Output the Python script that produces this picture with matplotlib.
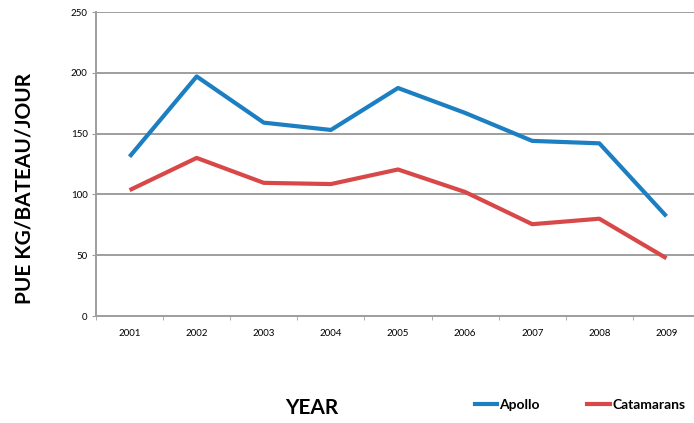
import matplotlib
matplotlib.use("Agg")
import matplotlib.pyplot as plt
from matplotlib.lines import Line2D

years = ["2001", "2002", "2003", "2004", "2005", "2006", "2007", "2008", "2009"]
apollo = [131, 197, 159, 153, 187.5, 167, 144, 142, 82]
catamarans = [103.5, 130, 109.5, 108.5, 120.5, 102, 75.5, 80, 47.5]
y_ticks = [0, 50, 100, 150, 200, 250]

plt.rcParams['font.family'] = ['Lato', 'DejaVu Sans']

fig = plt.figure(figsize=(6.94, 4.23), dpi=100)
ax = fig.add_axes([96 / 694, 1 - 316 / 423, 604 / 694, 304 / 423])

x = list(range(1, len(years) + 1))
grid_color = "#9e9e9e"
for t in y_ticks:
    ax.axhline(t, color=grid_color, lw=1.4, zorder=1)

ax.plot(x, apollo, color="#1b7fc1", lw=3, solid_capstyle="butt", zorder=3)
ax.plot(x, catamarans, color="#d94848", lw=3, solid_capstyle="butt", zorder=3)

ax.set_xlim(0.5, len(years) + 0.5)
ax.set_ylim(0, 250)
ax.set_yticks(y_ticks)
ax.set_yticklabels([str(t) for t in y_ticks], fontsize=7)
ax.set_xticks(x)
ax.set_xticklabels(years, fontsize=7)
ax.set_xticks([i + 0.5 for i in range(0, len(years) + 1)], minor=True)
ax.tick_params(axis="x", which="major", length=0, pad=9)
ax.tick_params(axis="x", which="minor", length=3, color=grid_color)
ax.tick_params(axis="y", length=3, color=grid_color, pad=3)

for side in ["top", "right"]:
    ax.spines[side].set_visible(False)
ax.spines["left"].set_color(grid_color)
ax.spines["left"].set_linewidth(1.4)
ax.spines["bottom"].set_color(grid_color)
ax.spines["bottom"].set_linewidth(1.4)

fig.text(25 / 694, 1 - 188 / 423, "PUE KG/BATEAU/JOUR", rotation=90,
         fontsize=15, fontweight="bold", ha="center", va="center")
fig.text(312 / 694, 1 - 408 / 423, "YEAR", fontsize=15, fontweight="bold",
         ha="center", va="center")

handles = [Line2D([], [], color="#1b7fc1", lw=3),
           Line2D([], [], color="#d94848", lw=3)]
leg = fig.legend(handles, ["Apollo", "Catamarans"], loc="center",
                 bbox_to_anchor=(580 / 694, 1 - 405 / 423), ncol=2, frameon=False,
                 handlelength=1.6, handletextpad=0.2, columnspacing=3.4,
                 prop={"weight": "bold", "size": 10})

fig.savefig("out.png", dpi=100)
